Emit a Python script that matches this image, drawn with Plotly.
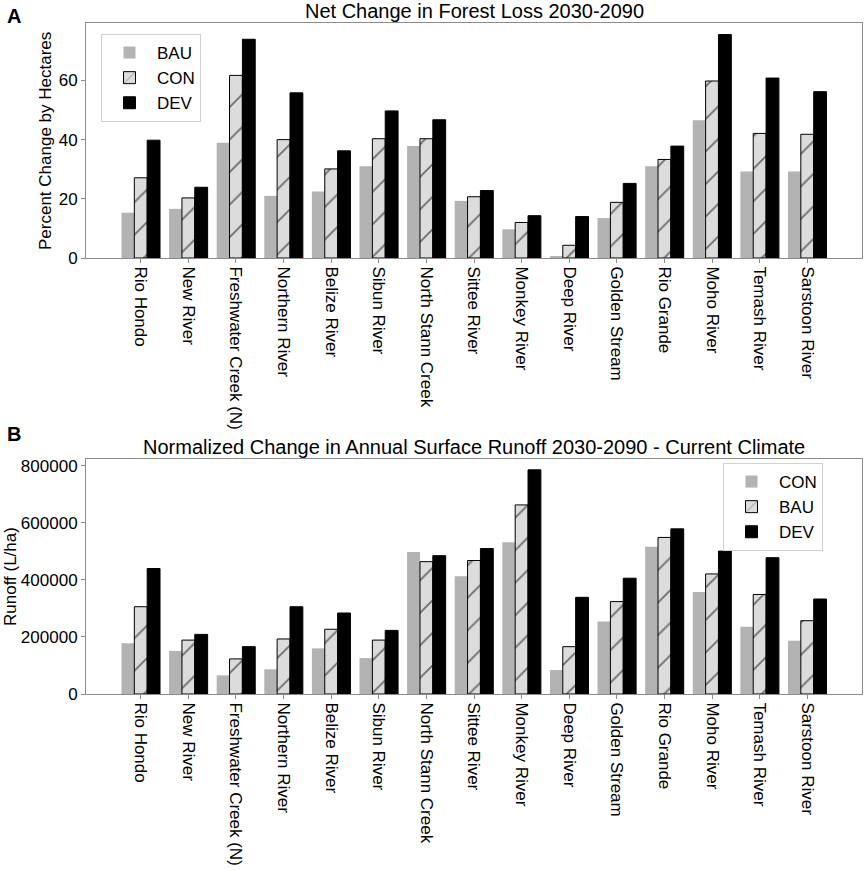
import plotly.graph_objects as go

# river basins (same order in both panels)
rivers = ["Rio Hondo", "New River", "Freshwater Creek (N)", "Northern River", "Belize River",
          "Sibun River", "North Stann Creek", "Sittee River", "Monkey River", "Deep River",
          "Golden Stream", "Rio Grande", "Moho River", "Temash River", "Sarstoon River"]

# panel A - percent change in forest loss
loss_bau = [15.3, 16.6, 38.9, 21.0, 22.5, 31.0, 37.8, 19.3, 9.7, 0.6, 13.5, 31.0, 46.5, 29.2, 29.2]
loss_con = [27.1, 20.3, 61.7, 40.0, 30.1, 40.3, 40.3, 20.7, 12.0, 4.3, 18.8, 33.3, 59.8, 42.1, 41.8]
loss_dev = [39.8, 23.9, 73.9, 55.8, 36.2, 49.7, 46.7, 22.8, 14.3, 14.0, 25.2, 37.8, 75.5, 60.8, 56.2]

# panel B - runoff (L/ha)
run_con = [178000, 151000, 65500, 86500, 160000, 126000, 498000, 413000, 532000, 84000,
           254000, 516000, 358000, 236000, 187000]
run_bau = [306000, 189000, 123000, 193000, 227000, 189000, 464000, 468000, 663000, 166000,
           324000, 549000, 421000, 349000, 257000]
run_dev = [440000, 209000, 166000, 306000, 284000, 223000, 485000, 510000, 786000, 339000,
           406000, 579000, 501000, 478000, 333000]

FONT = "Liberation Sans, Arial, sans-serif"
GREY = "#b3b3b3"
HATCH_BG = "#dcdcdc"
FRAME = "#8c8c8c"

solid = dict(color=GREY, line=dict(width=0))
hatched = dict(color=HATCH_BG, line=dict(color="black", width=1),
               pattern=dict(shape="/", bgcolor=HATCH_BG, fgcolor="black", size=23, solidity=0.08))
black = dict(color="black", line=dict(color="black", width=1))

fig = go.Figure()
# panel A
fig.add_trace(go.Bar(x=rivers, y=loss_bau, name="BAU", marker=solid, xaxis="x", yaxis="y", legend="legend"))
fig.add_trace(go.Bar(x=rivers, y=loss_con, name="CON", marker=hatched, xaxis="x", yaxis="y", legend="legend"))
fig.add_trace(go.Bar(x=rivers, y=loss_dev, name="DEV", marker=black, xaxis="x", yaxis="y", legend="legend"))
# panel B
fig.add_trace(go.Bar(x=rivers, y=run_con, name="CON", marker=solid, xaxis="x2", yaxis="y2", legend="legend2"))
fig.add_trace(go.Bar(x=rivers, y=run_bau, name="BAU", marker=hatched, xaxis="x2", yaxis="y2", legend="legend2"))
fig.add_trace(go.Bar(x=rivers, y=run_dev, name="DEV", marker=black, xaxis="x2", yaxis="y2", legend="legend2"))

# pixel helpers: plot area spans x 86..862, y 23..694
def px_x(p):
    return (p - 86) / 776

def px_y(p):
    return (694 - p) / 671

xax = dict(type="category", categoryorder="array", categoryarray=rivers, range=[-1.15, 15.15],
           tickangle=90, ticks="outside", ticklen=4, tickcolor=FRAME, showline=True, mirror=True,
           linecolor=FRAME, linewidth=1, showgrid=False, automargin=False,
           tickfont=dict(size=17, color="black"))
yax = dict(ticks="outside", ticklen=4, tickcolor=FRAME, showline=True, mirror=True, linecolor=FRAME,
           linewidth=1, showgrid=False, zeroline=False, automargin=False,
           tickfont=dict(size=17, color="black"))

legend_style = dict(font=dict(size=17, color="black"), bgcolor="white", bordercolor="#d0d0d0",
                    borderwidth=1, tracegroupgap=0, itemwidth=45)

fig.update_layout(
    width=865, height=870,
    margin=dict(l=86, r=865 - 862, t=23, b=870 - 694, autoexpand=False),
    paper_bgcolor="white", plot_bgcolor="white",
    font=dict(family=FONT, color="black"),
    barmode="group", bargap=0.19, bargroupgap=0,
    xaxis=dict(xax, anchor="y"),
    yaxis=dict(yax, domain=[px_y(258), 1], range=[0, 79.4], tickvals=[0, 20, 40, 60], anchor="x"),
    xaxis2=dict(xax, anchor="y2"),
    yaxis2=dict(yax, domain=[0, px_y(459)], range=[0, 824000],
                tickvals=[0, 200000, 400000, 600000, 800000], tickformat="d", anchor="x2"),
    legend=dict(legend_style, x=px_x(101), y=px_y(34), xanchor="left", yanchor="top"),
    legend2=dict(legend_style, x=px_x(823), y=px_y(463), xanchor="right", yanchor="top"),
    showlegend=True,
)

annotations = [
    dict(text="Net Change in Forest Loss 2030-2090", x=0.5, y=px_y(11), font=dict(size=20)),
    dict(text="Normalized Change in Annual Surface Runoff 2030-2090 - Current Climate",
         x=0.5, y=px_y(447), font=dict(size=20)),
    dict(text="<b>A</b>", x=px_x(14), y=px_y(16), font=dict(size=20)),
    dict(text="<b>B</b>", x=px_x(14), y=px_y(434), font=dict(size=20)),
    dict(text="Percent Change by Hectares", x=px_x(46), y=px_y(141), textangle=-90, font=dict(size=17)),
    dict(text="Runoff (L/ha)", x=px_x(10), y=px_y(577), textangle=-90, font=dict(size=17)),
]
for a in annotations:
    fig.add_annotation(xref="paper", yref="paper", xanchor="center", yanchor="middle",
                       showarrow=False, **a)

# drop the default page margin so the figure sits at the window's top-left corner
fig.write_html("out.html", config={"displayModeBar": False},
               post_script="document.body.style.margin = '0';")
